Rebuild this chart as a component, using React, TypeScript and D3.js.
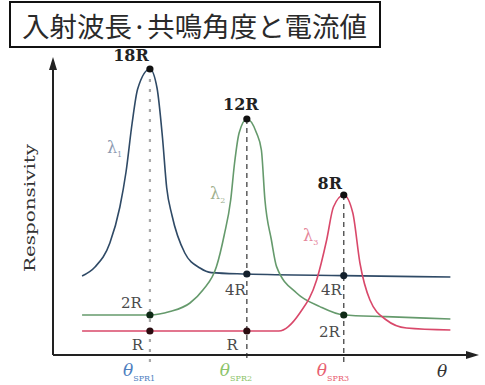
import * as d3 from "d3";

// schematic responsivity curves (theta in arbitrary units, response in ~R units)
const lambda1: [number, number][] = [
  [0.9, 3.95], [1.3, 4.4], [1.76, 5.6], [2.07, 7.4], [2.26, 9.15], [2.45, 11.6],
  [2.62, 13.3], [3.0, 14.3], [3.22, 13.35], [3.39, 10.85], [3.52, 8.35], [3.68, 7.0],
  [4.08, 5.1], [4.55, 4.35], [4.9, 4.12], [6.0, 4.05], [9.0, 3.97], [12.3, 3.9],
];
const lambda2: [number, number][] = [
  [0.9, 2.0], [3.0, 2.0], [3.62, 2.17], [4.24, 2.6], [4.64, 3.25], [5.06, 4.42],
  [5.3, 6.0], [5.5, 7.75], [5.62, 9.6], [5.76, 11.1], [6.0, 11.8], [6.3, 11.1],
  [6.45, 10.25], [6.56, 7.75], [6.76, 5.75], [6.92, 4.42], [7.54, 3.1], [8.26, 2.42],
  [9.0, 2.0], [10.3, 1.92], [12.3, 1.8],
];
const lambda3: [number, number][] = [
  [0.9, 1.2], [3.0, 1.2], [6.0, 1.2], [6.99, 1.2], [7.64, 2.1], [8.16, 3.75],
  [8.47, 5.75], [8.68, 7.4], [9.0, 8.0], [9.28, 7.1], [9.5, 4.6], [9.81, 2.75],
  [10.32, 1.75], [10.94, 1.35], [12.3, 1.25],
];

const resonanceAngles = [3, 6, 9];
const peakValues = [14.3, 11.8, 8.0];
const peakLabels = ["18R", "12R", "8R"];
const angleSubs = ["SPR1", "SPR2", "SPR3"];

const markerAngles = [3, 3, 6, 6, 9, 9];
const markerValues = [2.0, 1.2, 4.05, 1.2, 3.97, 2.0];
const markerLabels = ["2R", "R", "4R", "R", "4R", "2R"];

const lambdaNames = ["1", "2", "3"];
const lambdaAnchors: [number, number][] = [[1.67, 10.1], [4.86, 7.8], [7.74, 5.7]];

const W = 485;
const H = 385;

const curveColors = ["#2f4a66", "#659a6c", "#d9486a"];
const lambdaColors = ["#8d9ab2", "#9fb08f", "#e5869c"];
const angleColors = ["#4f7fbf", "#8cc46a", "#e86070"];
const flatDot = ["#13202c", "#0f2a16", "#2a0c10"];

// label offsets (px) relative to their dots
const peakOffsets = [[-19, -8], [-6, -9], [-14, -6]];
const markerOffsets = [[-8, -7], [-7, 19], [-1, 21], [-9, 19], [-2, 19], [-4, 22]];

export default function App() {
  const x = d3.scaleLinear().domain([0, 13]).range([53, 473]);
  const y = d3.scaleLinear().domain([0, 14.5]).range([355, 65]);

  const line = d3
    .line<[number, number]>()
    .x((d) => x(d[0]))
    .y((d) => y(d[1]))
    .curve(d3.curveMonotoneX);

  const series = [lambda1, lambda2, lambda3];
  const y0 = y(0);

  return (
    <div style={{ position: "absolute", left: 0, top: 0 }}>
      <svg width={W} height={H} style={{ display: "block", background: "#fff" }}>
        {/* title */}
        <rect x={10} y={2} width={370} height={45} fill="#fff" stroke="#111" strokeWidth={2} />
        <text
          x={22}
          y={37}
          fontSize={27}
          fontFamily="'Noto Sans CJK JP', sans-serif"
          fill="#2a2a2a"
          textLength={345}
          lengthAdjust="spacingAndGlyphs"
        >
          入射波長·共鳴角度と電流値
        </text>

        {/* resonance dashed guides */}
        {resonanceAngles.map((a, i) => (
          <line
            key={"g" + i}
            x1={x(a)}
            x2={x(a)}
            y1={y(peakValues[i])}
            y2={y0 + 7}
            stroke={i === 0 ? "#a9a9a9" : "#444"}
            strokeWidth={i === 0 ? 2.2 : 1.3}
            strokeDasharray={i === 0 ? "3,7" : "5,4"}
          />
        ))}

        {/* curves */}
        {series.map((s, i) => (
          <path key={"c" + i} d={line(s) ?? ""} fill="none" stroke={curveColors[i]} strokeWidth={1.6} />
        ))}

        {/* axes */}
        <line x1={x(0)} x2={x(0)} y1={y0} y2={68} stroke="#222" strokeWidth={2} />
        <path d={`M${x(0)},57 L${x(0) - 4},70 L${x(0) + 4},70 Z`} fill="#222" />
        <line x1={x(0)} x2={468} y1={y0} y2={y0} stroke="#222" strokeWidth={2} />
        <path d={`M479,${y0} L466,${y0 - 4} L466,${y0 + 4} Z`} fill="#222" />

        {/* peak dots + labels */}
        {resonanceAngles.map((a, i) => (
          <g key={"p" + i}>
            <circle cx={x(a)} cy={y(peakValues[i])} r={3.6} fill="#111" />
            <text
              x={x(a) + peakOffsets[i][0]}
              y={y(peakValues[i]) + peakOffsets[i][1]}
              textAnchor="middle"
              fontSize={16}
              fontWeight="bold"
              fontFamily="'DejaVu Serif', serif"
              fill="#222"
            >
              {peakLabels[i]}
            </text>
          </g>
        ))}

        {/* flat-level markers */}
        {markerAngles.map((a, i) => {
          const ci = markerLabels[i] === "R" ? 2 : markerLabels[i] === "4R" ? 0 : 1;
          return (
            <g key={"m" + i}>
              <circle cx={x(a)} cy={y(markerValues[i])} r={3.6} fill={flatDot[ci]} />
              <text
                x={x(a) + markerOffsets[i][0]}
                y={y(markerValues[i]) + markerOffsets[i][1]}
                textAnchor="end"
                fontSize={15}
                fontFamily="'DejaVu Serif', serif"
                fill="#4a4a4a"
              >
                {markerLabels[i]}
              </text>
            </g>
          );
        })}

        {/* lambda labels */}
        {lambdaAnchors.map((p, i) => (
          <text
            key={"l" + i}
            x={x(p[0])}
            y={y(p[1])}
            fontSize={16}
            fontFamily="'DejaVu Serif', serif"
            fill={lambdaColors[i]}
          >
            λ
            <tspan fontSize={8} dy={4}>
              {lambdaNames[i]}
            </tspan>
          </text>
        ))}

        {/* y axis title */}
        <text
          transform={`translate(35,208) rotate(-90)`}
          textAnchor="middle"
          fontSize={15}
          fontFamily="'DejaVu Serif', serif"
          fill="#333"
          textLength={128}
          lengthAdjust="spacingAndGlyphs"
        >
          Responsivity
        </text>

        {/* angle labels */}
        {resonanceAngles.map((a, i) => (
          <text
            key={"a" + i}
            x={x(a) - 27}
            y={376}
            fontSize={17}
            fontStyle="italic"
            fontFamily="'DejaVu Serif', serif"
            fill={angleColors[i]}
          >
            θ
            <tspan fontSize={8} fontStyle="normal" dy={5}>
              {angleSubs[i]}
            </tspan>
          </text>
        ))}
        <text x={442} y={377} textAnchor="middle" fontSize={17} fontStyle="italic" fontFamily="'DejaVu Serif', serif" fill="#333">
          θ
        </text>
      </svg>
    </div>
  );
}
